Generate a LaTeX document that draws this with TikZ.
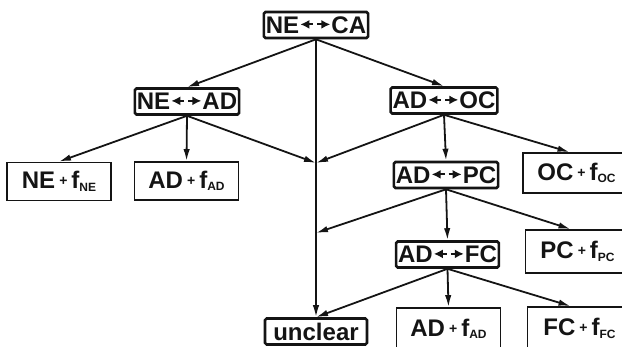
\documentclass[tikz,border=0pt]{standalone}
\usepackage{fontspec}
\setmainfont{Liberation Sans}
\usepackage{tikz}
\usetikzlibrary{arrows.meta,calc}
\definecolor{ink}{HTML}{141414}
\newcommand{\twoway}{\tikz[baseline=-0.7ex]{\draw[ink,line width=1.1pt,{Latex[length=4.5pt,width=4.5pt]}-] (0pt,0pt)--(6.5pt,0pt);\draw[ink,line width=1.1pt,-{Latex[length=4.5pt,width=4.5pt]}] (8.5pt,0pt)--(15pt,0pt);}}
\newcommand{\pl}{\,{\scriptsize\raisebox{.4ex}{+}}\,}
\newcommand{\fsub}[1]{f\raisebox{-.2ex}{\fontsize{6}{7}\selectfont #1}}

\begin{document}
\begin{tikzpicture}[x=0.5pt,y=-0.5pt,line width=0.9pt,ink,font=\bfseries\fontsize{12}{13}\selectfont,
  opbox/.style={draw,line width=1.3pt,rounded corners=0.8pt,minimum width=51pt,minimum height=13pt,inner sep=1pt},
  resbox/.style={draw,line width=0.9pt,minimum width=52pt,minimum height=19pt,inner sep=1pt},
  arr/.style={-{Latex[length=6pt,width=3.2pt]}}]
\useasboundingbox (0,0) rectangle (622,347);
\clip (0,0) rectangle (622,347);
% decision boxes
\node[opbox] (neca) at (316,25) {NE\twoway CA};
\node[opbox] (nead) at (187,101.5) {NE\twoway AD};
\node[opbox] (adoc) at (444,100.5) {AD\twoway OC};
\node[opbox] (adpc) at (446,175) {AD\twoway PC};
\node[opbox] (adfc) at (447.5,254.5) {AD\twoway FC};
\node[opbox] (unclear) at (316,331.5) {unclear};
% results
\node[resbox] (nef) at (59,181.5) {NE\pl\fsub{NE}};
\node[resbox] (adfl) at (186.5,181) {AD\pl\fsub{AD}};
\node[resbox,minimum width=53.5pt,minimum height=20pt] (ocf) at (576.5,173) {OC\pl\fsub{OC}};
\node[resbox,minimum height=21.5pt] (pcf) at (577.5,251.5) {PC\pl\fsub{PC}};
\node[resbox,minimum height=21pt] (adfr) at (448.5,329) {AD\pl\fsub{AD}};
\node[resbox,minimum height=21.5pt] (fcf) at (579.5,328.5) {FC\pl\fsub{FC}};
\coordinate (j1) at (316,163);
\coordinate (j2) at (316,233);
% connectors
\draw[arr] (neca.south) -- (nead.north);
\draw[arr] (neca.south) -- (adoc.north);
\draw[arr] (neca.south) -- (j1) -- (j2) -- (unclear.north);
\draw[arr] (nead.south) -- (nef.north);
\draw[arr] (nead.south) -- (adfl.north);
\draw[arr] (nead.south) -- (j1);
\draw[arr] (adoc.south) -- (j1);
\draw[arr] (adoc.south) -- (adpc.north);
\draw[arr] (adoc.south) -- ([xshift=-3.5pt]ocf.north);
\draw[arr] (adpc.south) -- (j2);
\draw[arr] (adpc.south) -- (adfc.north);
\draw[arr] (adpc.south) -- ([xshift=-3.5pt]pcf.north);
\draw[arr] (adfc.south) -- (unclear.north);
\draw[arr] (adfc.south) -- (adfr.north);
\draw[arr] (adfc.south) -- ([xshift=-4.5pt]fcf.north);
\end{tikzpicture}
\end{document}
